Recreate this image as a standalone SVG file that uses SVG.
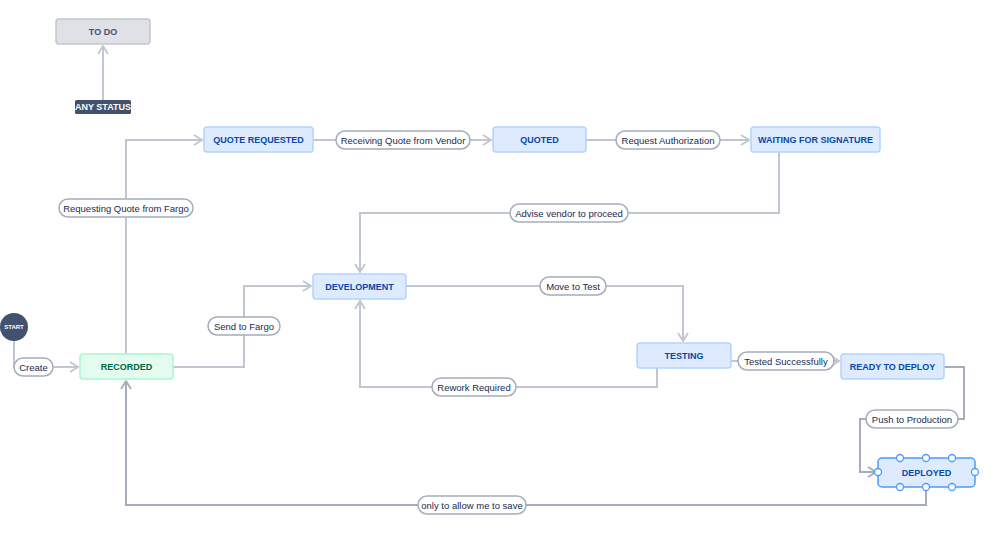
<svg xmlns="http://www.w3.org/2000/svg" width="998" height="539" viewBox="0 0 998 539">
<style>
.n rect{fill:#deebff;stroke:#b3d4ff;stroke-width:1.5}
.t{font-family:"Liberation Sans",Arial,sans-serif;font-size:9px;font-weight:bold;fill:#0747a6;text-anchor:middle;dominant-baseline:central}
.c{fill:none;stroke:#c1c7d0;stroke-width:2}
.c.d{stroke:#a5adba}
.l rect{fill:#fff;stroke:#a5adba;stroke-width:1.5}
.l text{font-family:"Liberation Sans",Arial,sans-serif;font-size:9.5px;fill:#172b4d;text-anchor:middle;dominant-baseline:central}
.h{fill:#fff;stroke:#4c9aff;stroke-width:1.3}
</style>
<defs>
<marker id="a" viewBox="0 0 10 12" refX="9" refY="6" markerWidth="10" markerHeight="12" markerUnits="userSpaceOnUse" orient="auto">
<path d="M1,1 L9,6 L1,11" fill="none" stroke="#c1c7d0" stroke-width="1.8"/>
</marker>
<marker id="ad" viewBox="0 0 10 12" refX="9" refY="6" markerWidth="10" markerHeight="12" markerUnits="userSpaceOnUse" orient="auto">
<path d="M1,1 L9,6 L1,11" fill="none" stroke="#a5adba" stroke-width="1.8"/>
</marker>
</defs>
<rect width="998" height="539" fill="#fff"/>
<g id="connectors">
<path class="c" d="M103,100 V46" marker-end="url(#a)"/>
<path class="c" d="M14,341 V367 H78" marker-end="url(#a)"/>
<path class="c" d="M126,354 V140 H202" marker-end="url(#a)"/>
<path class="c" d="M313,140 H491" marker-end="url(#a)"/>
<path class="c" d="M586,140 H749" marker-end="url(#a)"/>
<path class="c" d="M779,152 V213 H360 V272" marker-end="url(#a)"/>
<path class="c" d="M173,367 H244 V286 H311" marker-end="url(#a)"/>
<path class="c" d="M406,286 H683 V341" marker-end="url(#a)"/>
<path class="c" d="M657,368 V387 H360 V301" marker-end="url(#a)"/>
<path class="c" d="M731,361 H839" marker-end="url(#a)"/>
<path class="c d" d="M944,367 H964 V419 H860 V472 H876" marker-end="url(#ad)"/>
<path class="c d" d="M926,487 V505 H126 V381" marker-end="url(#ad)"/>
<g class="l">
<rect x="14" y="358" width="39" height="18" rx="9"/><text x="33.5" y="367">Create</text>
<rect x="59" y="199" width="134" height="18" rx="9"/><text x="126" y="208">Requesting Quote from Fargo</text>
<rect x="336" y="131" width="134" height="18" rx="9"/><text x="403" y="140">Receiving Quote from Vendor</text>
<rect x="616" y="131" width="104" height="18" rx="9"/><text x="668" y="140">Request Authorization</text>
<rect x="510" y="204" width="118" height="18" rx="9"/><text x="569" y="213">Advise vendor to proceed</text>
<rect x="208" y="317" width="72" height="18" rx="9"/><text x="244" y="326">Send to Fargo</text>
<rect x="540" y="277" width="66" height="18" rx="9"/><text x="573" y="286">Move to Test</text>
<rect x="432" y="378" width="84" height="18" rx="9"/><text x="474" y="387">Rework Required</text>
<rect x="738" y="352" width="96" height="18" rx="9"/><text x="786" y="361">Tested Successfully</text>
<rect x="866" y="410" width="92" height="18" rx="9"/><text x="912" y="419">Push to Production</text>
<rect x="418" y="496" width="108" height="18" rx="9"/><text x="472" y="505">only to allow me to save</text>
</g>
</g>
<g id="todo"><rect x="56" y="19" width="94" height="25" rx="3" fill="#dfe1e6" stroke="#c1c7d0" stroke-width="1.5"/><text class="t" x="103" y="32" style="fill:#42526e">TO DO</text></g>
<g id="anystatus"><rect x="75" y="100" width="56" height="14" rx="1.5" fill="#42526e"/><text class="t" x="103" y="107" style="fill:#fff">ANY STATUS</text></g>
<g id="start"><circle cx="14" cy="327" r="14" fill="#42526e"/><text class="t" x="14" y="327" style="fill:#fff;font-size:6px">START</text></g>
<g id="quoterequested" class="n"><rect x="204" y="127" width="109" height="25" rx="3"/><text class="t" x="258.5" y="140">QUOTE REQUESTED</text></g>
<g id="quoted" class="n"><rect x="493" y="127" width="93" height="25" rx="3"/><text class="t" x="539.5" y="140">QUOTED</text></g>
<g id="waiting" class="n"><rect x="751" y="127" width="129" height="25" rx="3"/><text class="t" x="815.5" y="140">WAITING FOR SIGNATURE</text></g>
<g id="development" class="n"><rect x="313" y="274" width="93" height="25" rx="3"/><text class="t" x="359.5" y="287">DEVELOPMENT</text></g>
<g id="recorded"><rect x="80" y="354" width="93" height="25" rx="3" fill="#e3fcef" stroke="#abf5d1" stroke-width="1.5"/><text class="t" x="126.5" y="367" style="fill:#006644">RECORDED</text></g>
<g id="testing" class="n"><rect x="637" y="343" width="94" height="25" rx="3"/><text class="t" x="684" y="356">TESTING</text></g>
<g id="readytodeploy" class="n"><rect x="841" y="354" width="103" height="25" rx="3"/><text class="t" x="892.5" y="367">READY TO DEPLOY</text></g>
<g id="deployed"><rect x="878" y="458" width="97" height="29" rx="4" fill="#deebff" stroke="#4c9aff" stroke-width="1.5"/><text class="t" x="926.5" y="473">DEPLOYED</text>
<circle class="h" cx="900" cy="458" r="3.5"/><circle class="h" cx="926" cy="458" r="3.5"/><circle class="h" cx="952" cy="458" r="3.5"/>
<circle class="h" cx="900" cy="487" r="3.5"/><circle class="h" cx="926" cy="487" r="3.5"/><circle class="h" cx="952" cy="487" r="3.5"/>
<circle class="h" cx="878" cy="472" r="3.5"/><circle class="h" cx="975" cy="472" r="3.5"/></g>
</svg>
